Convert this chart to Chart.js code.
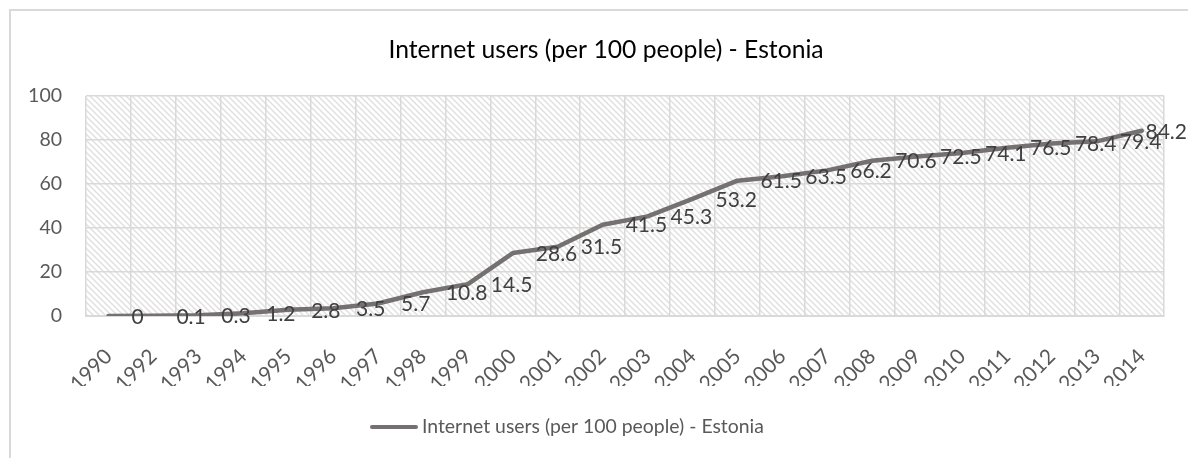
<!DOCTYPE html>
<html>
<head>
<meta charset="utf-8">
<script src="https://cdn.jsdelivr.net/npm/chart.js@4.4.1/dist/chart.umd.min.js"></script>
<style>
  html, body { margin: 0; padding: 0; background: #fff; }
</style>
</head>
<body>
<canvas id="usersChart" width="1188" height="458"></canvas>
<script>
const years = ['1990', '1992', '1993', '1994', '1995', '1996', '1997', '1998', '1999', '2000', '2001', '2002',
               '2003', '2004', '2005', '2006', '2007', '2008', '2009', '2010', '2011', '2012', '2013', '2014'];
const users = [0, 0.1, 0.3, 1.2, 2.8, 3.5, 5.7, 10.8, 14.5, 28.6, 31.5, 41.5,
               45.3, 53.2, 61.5, 63.5, 66.2, 70.6, 72.5, 74.1, 76.5, 78.4, 79.4, 84.2];
const seriesName = 'Internet users (per 100 people) - Estonia';
const yMin = 0, yMax = 100, yStep = 20;

const lineColor = '#767171';
const gridColor = '#d9d9d9';
const axisText = '#595959';
const font = 'Lato';

// small tile of "\" stripes used to shade the plot area
function stripeTile(ctx) {
    const c = document.createElement('canvas');
    c.width = 6;
    c.height = 6;
    const g = c.getContext('2d');
    g.strokeStyle = '#e0e0e0';
    g.lineWidth = 1.5;
    g.beginPath();
    g.moveTo(-1, -1); g.lineTo(7, 7);
    g.moveTo(-1, 5); g.lineTo(1, 7);
    g.moveTo(5, -1); g.lineTo(7, 1);
    g.stroke();
    return ctx.createPattern(c, 'repeat');
}

const frame = {
    id: 'frame',
    beforeDraw(chart) {
        const { ctx, chartArea: a } = chart;
        ctx.save();
        ctx.strokeStyle = gridColor;
        ctx.lineWidth = 2;
        ctx.strokeRect(10, 10, chart.width + 20, chart.height + 20);
        ctx.fillStyle = stripeTile(ctx);
        ctx.fillRect(a.left, a.top, a.right - a.left, a.bottom - a.top);
        ctx.restore();
    },
    afterDraw(chart) {
        const ctx = chart.ctx;
        ctx.save();
        // title
        ctx.font = '24.7px ' + font;
        ctx.fillStyle = '#000';
        ctx.textAlign = 'center';
        ctx.textBaseline = 'middle';
        ctx.fillText(seriesName, 606, 50);
        // legend
        ctx.strokeStyle = lineColor;
        ctx.lineWidth = 4;
        ctx.lineCap = 'round';
        ctx.beginPath();
        ctx.moveTo(372, 427);
        ctx.lineTo(416, 427);
        ctx.stroke();
        ctx.font = '19.4px ' + font;
        ctx.fillStyle = axisText;
        ctx.textAlign = 'left';
        ctx.fillText(seriesName, 422, 427);
        ctx.restore();
    }
};

// value labels sit to the right of each point
const valueLabels = {
    id: 'valueLabels',
    afterDatasetsDraw(chart) {
        const ctx = chart.ctx;
        const meta = chart.getDatasetMeta(0);
        ctx.save();
        ctx.font = '21px ' + font;
        ctx.fillStyle = '#404040';
        ctx.textBaseline = 'middle';
        meta.data.forEach((pt, i) => {
            const text = String(users[i]);
            const w = ctx.measureText(text).width;
            const x = Math.min(pt.x + 23, chart.width - w - 1);
            ctx.fillText(text, x, pt.y + 1);
        });
        ctx.restore();
    }
};

new Chart('usersChart', {
    type: 'line',
    data: {
        labels: years,
        datasets: [{
            label: seriesName,
            data: users,
            borderColor: lineColor,
            borderWidth: 4.5,
            borderJoinStyle: 'round',
            borderCapStyle: 'round',
            pointRadius: 0,
            tension: 0
        }]
    },
    options: {
        responsive: false,
        animation: false,
        layout: {
            padding: { top: 96, left: 10, right: 21, bottom: 72 }
        },
        plugins: {
            legend: { display: false },
            title: { display: false },
            tooltip: { enabled: false }
        },
        scales: {
            x: {
                offset: true,
                grid: { offset: true, color: gridColor, lineWidth: 1.5, drawTicks: false },
                border: { color: gridColor, width: 2 },
                ticks: {
                    autoSkip: false,
                    minRotation: 45,
                    maxRotation: 45,
                    padding: 28,
                    color: axisText,
                    font: { family: font, size: 21 }
                },
                afterFit(scale) { scale.height = 70; }
            },
            y: {
                min: yMin,
                max: yMax,
                grid: { color: gridColor, lineWidth: 1.5, drawTicks: false },
                border: { display: false },
                ticks: {
                    stepSize: yStep,
                    padding: 24,
                    color: axisText,
                    font: { family: font, size: 19.5 }
                },
                afterFit(scale) { scale.width = 76; }
            }
        }
    },
    plugins: [frame, valueLabels]
});
</script>
</body>
</html>
